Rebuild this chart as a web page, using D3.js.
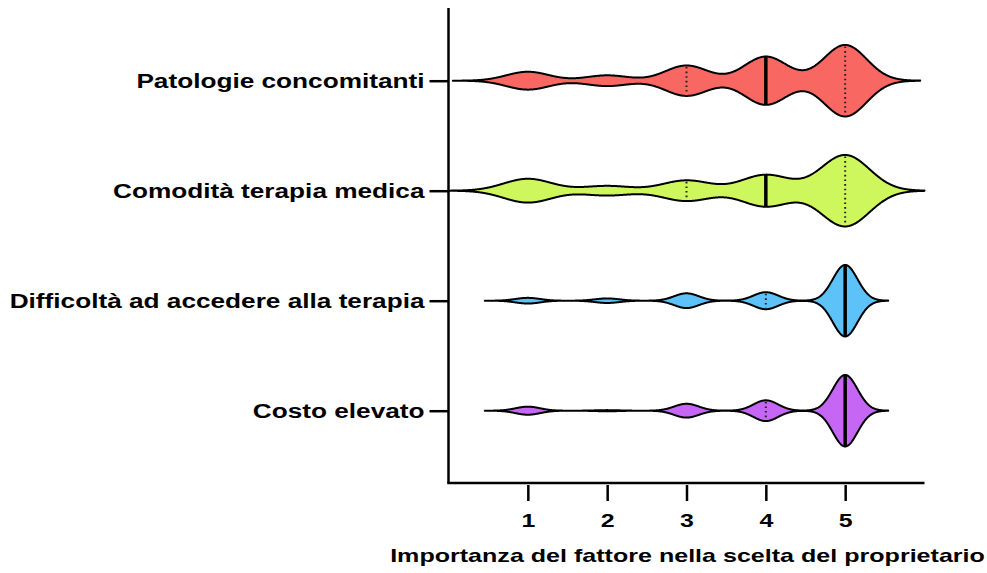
<!DOCTYPE html>
<html>
<head>
<meta charset="utf-8">
<script src="https://cdn.jsdelivr.net/npm/d3@7"></script>
<style>
  html, body { margin: 0; padding: 0; background: #fff; }
  svg { display: block; font-family: "Liberation Sans", Arial, Helvetica, sans-serif; font-weight: bold; }
</style>
</head>
<body>
<svg id="chart" width="987" height="573"></svg>
<script>
// Survey factors (top to bottom) and response counts for ratings 1..5
const factors = [
  "Patologie concomitanti",
  "Comodità terapia medica",
  "Difficoltà ad accedere alla terapia",
  "Costo elevato"
];
const ratings = [1, 2, 3, 4, 5];
const countsPatologie = [10, 6, 17, 27, 40];
const countsComodita  = [15, 6, 13, 20, 45];
const countsDifficolta = [5, 4, 13, 15, 63];
const countsCosto     = [7, 1, 12, 18, 62];
const fillColors = ["#F96763", "#CDF75C", "#5CC2F8", "#C666F4"];
const tickValues = [1, 2, 3, 4, 5];
const xTitle = "Importanza del fattore nella scelta del proprietario";

const allCounts = [countsPatologie, countsComodita, countsDifficolta, countsCosto];

// KDE settings: Silverman's rule scaled by an adjust factor, tails cut at 3.5 bandwidths
const bwAdjust = 0.58;
const tailCut = 3.5;

// wide-set lettering: glyphs are stretched horizontally
const textStretch = 1.31;

const svg = d3.select("#chart");
const plotTop = 8, plotBottom = 483, plotLeft = 448.5, plotRight = 924.5;

const x = d3.scaleLinear().domain([0, 6]).range([plotLeft, plotRight]);
const y = d3.scalePoint().domain(factors).range([80.7, 410.7]);
const halfMax = (y.step()) * 0.325;

function expand(counts) {
  const vals = [];
  counts.forEach((c, i) => { for (let k = 0; k < c; k++) vals.push(ratings[i]); });
  return vals;
}

function silverman(vals) {
  const n = vals.length;
  const sd = d3.deviation(vals);
  const iqr = d3.quantile(vals, 0.75) - d3.quantile(vals, 0.25);
  const s = Math.min(sd, iqr / 1.34);
  return bwAdjust * 0.9 * s * Math.pow(n, -0.2);
}

function kde(counts, h) {
  return v => {
    let s = 0;
    counts.forEach((c, i) => {
      const u = (v - ratings[i]) / h;
      s += c * Math.exp(-0.5 * u * u);
    });
    return s / (h * Math.sqrt(2 * Math.PI));
  };
}

const violins = factors.map((name, i) => {
  const counts = allCounts[i];
  const vals = expand(counts).sort(d3.ascending);
  const h = silverman(vals);
  const f = kde(counts, h);
  const lo = Math.max(x.domain()[0], d3.min(vals) - tailCut * h);
  const hi = Math.min(x.domain()[1], d3.max(vals) + tailCut * h);
  const pts = d3.range(lo, hi, 0.005).concat([hi]).map(v => [v, f(v)]);
  const maxD = d3.max(pts, d => d[1]);
  const w = d3.scaleLinear().domain([0, maxD]).range([0, halfMax]);
  return {
    name, color: fillColors[i], pts, f, w,
    q1: d3.quantile(vals, 0.25),
    med: d3.quantile(vals, 0.5),
    q3: d3.quantile(vals, 0.75)
  };
});

// Violins
const g = svg.append("g");
violins.forEach(v => {
  const cy = y(v.name);
  const area = d3.area()
    .x(d => x(d[0]))
    .y0(d => cy - v.w(d[1]))
    .y1(d => cy + v.w(d[1]));
  g.append("path")
    .datum(v.pts)
    .attr("d", area)
    .attr("fill", v.color)
    .attr("stroke", "#000")
    .attr("stroke-width", 2)
    .attr("stroke-linejoin", "round");

  // quartiles (dotted) then median (solid)
  [v.q1, v.q3].forEach(q => {
    const hw = v.w(v.f(q));
    g.append("line")
      .attr("x1", x(q)).attr("x2", x(q))
      .attr("y1", cy - hw + 1.5).attr("y2", cy + hw - 1.5)
      .attr("stroke", "#222")
      .attr("stroke-width", 2)
      .attr("stroke-dasharray", "1.6,3");
  });
  const mh = v.w(v.f(v.med));
  g.append("line")
    .attr("x1", x(v.med)).attr("x2", x(v.med))
    .attr("y1", cy - mh).attr("y2", cy + mh)
    .attr("stroke", "#000")
    .attr("stroke-width", 3.5);
});

// Axis lines
svg.append("line")
  .attr("x1", plotLeft).attr("x2", plotLeft)
  .attr("y1", plotTop).attr("y2", plotBottom)
  .attr("stroke", "#000").attr("stroke-width", 2.5);
svg.append("line")
  .attr("x1", plotLeft - 1.25).attr("x2", plotRight)
  .attr("y1", plotBottom).attr("y2", plotBottom)
  .attr("stroke", "#000").attr("stroke-width", 2.5);

// Bottom axis ticks and labels
const xAxis = svg.append("g")
  .attr("transform", `translate(0,${plotBottom + 2})`)
  .call(d3.axisBottom(x).tickValues(tickValues).tickSize(16).tickPadding(13).tickFormat(d3.format("d")));
xAxis.select(".domain").remove();
xAxis.selectAll(".tick line").attr("stroke", "#000").attr("stroke-width", 2.5);
xAxis.selectAll(".tick text")
  .attr("fill", "#000")
  .attr("transform", `scale(${textStretch},1)`)
  .style("font-family", "'Liberation Sans', Arial, sans-serif")
  .style("font-weight", "bold")
  .style("font-size", "19px");

// Left axis ticks and category labels
const yTickSize = 19, yTickPad = 5;
const yAxis = svg.append("g")
  .attr("transform", `translate(${plotLeft},0)`)
  .call(d3.axisLeft(y).tickSize(yTickSize).tickPadding(yTickPad));
yAxis.select(".domain").remove();
yAxis.selectAll(".tick line").attr("stroke", "#000").attr("stroke-width", 2.5);
yAxis.selectAll(".tick text")
  .attr("fill", "#000")
  .attr("x", -(yTickSize + yTickPad) / textStretch)
  .attr("transform", `scale(${textStretch},1)`)
  .style("font-family", "'Liberation Sans', Arial, sans-serif")
  .style("font-weight", "bold")
  .style("font-size", "20px");

// X axis title
svg.append("text")
  .attr("transform", `translate(687.5,562) scale(${textStretch + 0.01},1)`)
  .attr("text-anchor", "middle")
  .attr("fill", "#000")
  .style("font-size", "19px")
  .text(xTitle);
</script>
</body>
</html>
